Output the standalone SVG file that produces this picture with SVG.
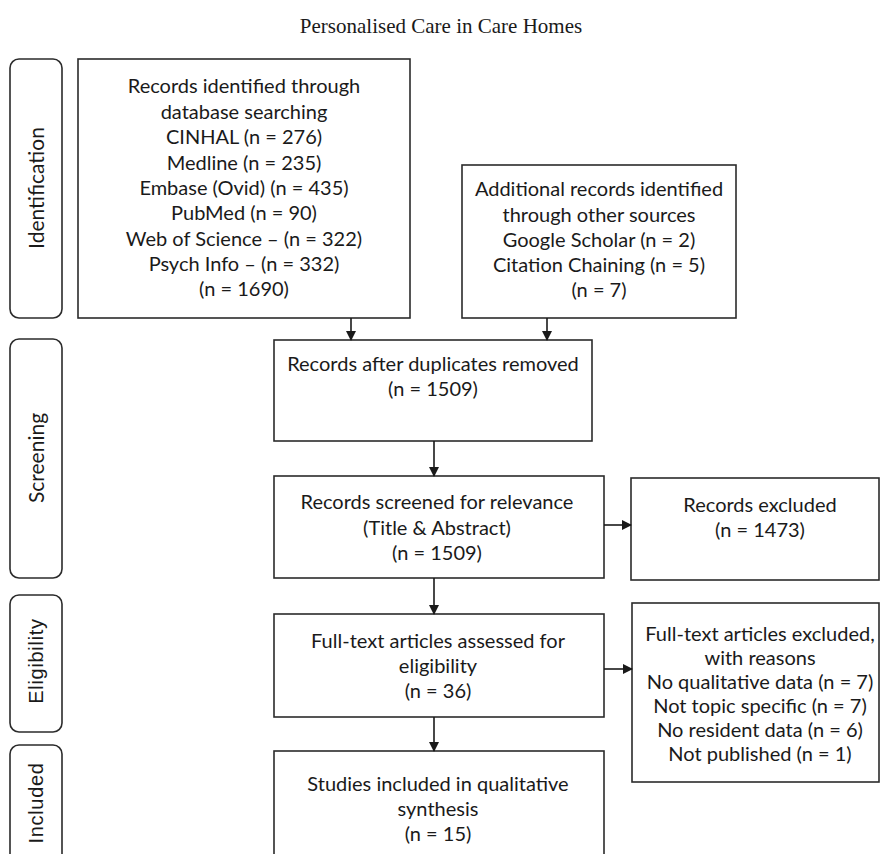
<svg xmlns="http://www.w3.org/2000/svg" width="882" height="854" viewBox="0 0 882 854">
<defs>
<marker id="ah" markerWidth="10" markerHeight="10" refX="9" refY="5" orient="auto" markerUnits="userSpaceOnUse">
<path d="M0,0 L10,5 L0,10 Z" fill="#1a1a1a"/>
</marker>
<style>
.box{fill:#fff;stroke:#2b2b2b;stroke-width:1.6}
.phase{fill:#fff;stroke:#2b2b2b;stroke-width:1.6}
.t{font-family:Lato,"Liberation Sans",sans-serif;font-size:20px;fill:#1a1a1a;text-anchor:middle}
.p{font-family:Lato,"Liberation Sans",sans-serif;font-size:21px;fill:#1a1a1a;text-anchor:middle}
.p2{font-family:"Liberation Sans",Arial,sans-serif;font-size:20px;letter-spacing:0.7px;fill:#1a1a1a;text-anchor:middle}
.title{font-family:"Liberation Serif","Times New Roman",serif;font-size:21px;fill:#1a1a1a;text-anchor:middle}
.c{stroke:#1a1a1a;stroke-width:1.6;fill:none;marker-end:url(#ah)}
</style>
</defs>
<text class="title" x="441" y="33">Personalised Care in Care Homes</text>

<g id="phase-identification">
<rect class="phase" x="10" y="59" width="52" height="259" rx="9"/>
<text class="p" transform="translate(44,188) rotate(-90)" y="0">Identification</text>
</g>
<g id="phase-screening">
<rect class="phase" x="10" y="339" width="52" height="239" rx="9"/>
<text class="p" transform="translate(44,458) rotate(-90)">Screening</text>
</g>
<g id="phase-eligibility">
<rect class="phase" x="10" y="595" width="52" height="137" rx="9"/>
<text class="p2" transform="translate(43,661) rotate(-90)">Eligibility</text>
</g>
<g id="phase-included">
<rect class="phase" x="10" y="745" width="52" height="130" rx="9"/>
<text class="p2" transform="translate(43,803) rotate(-90)">Included</text>
</g>

<g id="db-search">
<rect class="box" x="78" y="59" width="332" height="259"/>
<text class="t" x="244" y="93">Records identified through</text>
<text class="t" x="244" y="119">database searching</text>
<text class="t" x="244" y="144">CINHAL (n = 276)</text>
<text class="t" x="244" y="170">Medline (n = 235)</text>
<text class="t" x="244" y="195">Embase (Ovid) (n = 435)</text>
<text class="t" x="244" y="220">PubMed (n = 90)</text>
<text class="t" x="244" y="246">Web of Science – (n = 322)</text>
<text class="t" x="244" y="271">Psych Info – (n = 332)</text>
<text class="t" x="244" y="296">(n = 1690)</text>
</g>

<g id="other-sources">
<rect class="box" x="462" y="165" width="274" height="153"/>
<text class="t" x="599" y="196">Additional records identified</text>
<text class="t" x="599" y="222">through other sources</text>
<text class="t" x="599" y="247">Google Scholar (n = 2)</text>
<text class="t" x="599" y="272">Citation Chaining (n = 5)</text>
<text class="t" x="599" y="297">(n = 7)</text>
</g>

<g id="duplicates-removed">
<rect class="box" x="274" y="340" width="318" height="101"/>
<text class="t" x="433" y="371">Records after duplicates removed</text>
<text class="t" x="433" y="396">(n = 1509)</text>
</g>

<g id="screened">
<rect class="box" x="274" y="476" width="330" height="102"/>
<text class="t" x="437" y="509">Records screened for relevance</text>
<text class="t" x="437" y="535">(Title &amp; Abstract)</text>
<text class="t" x="437" y="560">(n = 1509)</text>
</g>

<g id="records-excluded">
<rect class="box" x="631" y="478" width="248" height="102"/>
<text class="t" x="760" y="512">Records excluded</text>
<text class="t" x="760" y="537">(n = 1473)</text>
</g>

<g id="full-text">
<rect class="box" x="274" y="614" width="330" height="103"/>
<text class="t" x="438" y="648">Full-text articles assessed for</text>
<text class="t" x="438" y="673">eligibility</text>
<text class="t" x="438" y="698">(n = 36)</text>
</g>

<g id="full-text-excluded">
<rect class="box" x="632" y="603" width="247" height="179"/>
<text class="t" x="760" y="641">Full-text articles excluded,</text>
<text class="t" x="760" y="665">with reasons</text>
<text class="t" x="760" y="689">No qualitative data (n = 7)</text>
<text class="t" x="760" y="713">Not topic specific (n = 7)</text>
<text class="t" x="760" y="737">No resident data (n = 6)</text>
<text class="t" x="760" y="761">Not published (n = 1)</text>
</g>

<g id="included">
<rect class="box" x="274" y="751" width="330" height="120"/>
<text class="t" x="438" y="791">Studies included in qualitative</text>
<text class="t" x="438" y="816">synthesis</text>
<text class="t" x="438" y="841">(n = 15)</text>
</g>

<g id="connectors">
<line class="c" x1="351" y1="318" x2="351" y2="340"/>
<line class="c" x1="547" y1="318" x2="547" y2="340"/>
<line class="c" x1="434" y1="441" x2="434" y2="476"/>
<line class="c" x1="604" y1="525" x2="631" y2="525"/>
<line class="c" x1="434" y1="578" x2="434" y2="614"/>
<line class="c" x1="604" y1="669" x2="632" y2="669"/>
<line class="c" x1="434" y1="717" x2="434" y2="751"/>
</g>
</svg>
